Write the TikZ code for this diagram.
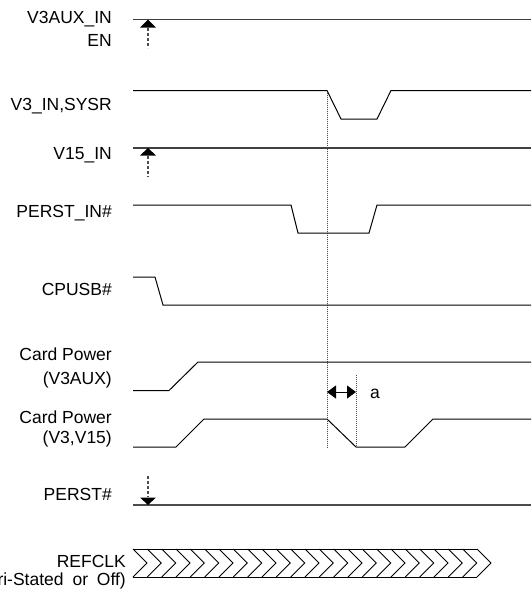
\documentclass[tikz,border=0pt]{standalone}
\usepackage{fontspec}
\setmainfont{Liberation Sans}
\usetikzlibrary{arrows.meta}
\begin{document}
\begin{tikzpicture}[x=1pt,y=-1pt,
  sig/.style={line width=1pt,black,line join=miter},
  flat/.style={line width=1.3pt,black!75},
  lbl/.style={anchor=base east,inner sep=0pt,font=\fontsize{17.5}{21}\selectfont},
  stem/.style={line width=1.1pt,black!70,dash pattern=on 2.5pt off 2.5pt},
  vdot/.style={line width=0.7pt,black!70,dash pattern=on 1pt off 1pt},
  tri/.style={fill=black,draw=none}]
\useasboundingbox (0,0) rectangle (531,595);
% labels
\node[lbl] (l1) at (112,23) {V3AUX\_IN};
\node[lbl] (l1b) at (112,46) {EN};
\node[lbl] (l2) at (112,110) {V3\_IN,SYSR};
\node[lbl] (l3) at (112,159) {V15\_IN};
\node[lbl] (l4) at (112,217) {PERST\_IN\#};
\node[lbl] (l5) at (112,295) {CPUSB\#};
\node[lbl] (l6) at (112,360) {Card Power};
\node[lbl] (l6b) at (112,384) {(V3AUX)};
\node[lbl] (l7) at (112,423) {Card Power};
\node[lbl] (l7b) at (112,443) {(V3,V15)};
\node[lbl] (l8) at (112,500) {PERST\#};
\node[lbl] (l9) at (126,567) {REFCLK};
\node[lbl] (l9b) at (126,585) {(Tri-Stated\hspace{4pt} or\hspace{4pt} Off)};
% dotted guides
\draw[vdot] (327,90.5) -- (327,447);
\draw[vdot] (356,375) -- (356,447);
% V3AUX_IN
\draw[flat] (133,19.5) -- (531,19.5);
\draw[stem] (148,28) -- (148,48);
\fill[tri] (140,27.5) -- (148,19.5) -- (156,27.5) -- cycle;
% V3_IN,SYSR
\draw[sig] (133,90.5) -- (327,90.5) -- (341,119) -- (377,119) -- (391,90.5) -- (531,90.5);
% V15_IN
\draw[flat] (133,148) -- (531,148);
\draw[stem] (148,156) -- (148,177);
\fill[tri] (140,155.5) -- (148,148) -- (156,155.5) -- cycle;
% PERST_IN#
\draw[sig] (133,205) -- (291,205) -- (298,233) -- (369,233) -- (377,205) -- (531,205);
% CPUSB#
\draw[sig] (133,277) -- (155,277) -- (163,305) -- (531,305);
% Card power V3AUX
\draw[sig] (133,390.5) -- (169,390.5) -- (198,362) -- (531,362);
% Card power V3,V15
\draw[sig] (133,447) -- (176,447) -- (204,419) -- (327,419) -- (356,447) -- (405,447) -- (433,419) -- (531,419);
% time a
\coordinate (aL) at (327,392);
\coordinate (aR) at (356,392);
\draw[line width=1pt,{Triangle[length=9pt,width=13pt]}-{Triangle[length=9pt,width=13pt]}] (aL) -- (aR);
\node[anchor=base west,inner sep=0pt,font=\fontsize{17.5}{21}\selectfont] (alab) at (370,398) {a};
% PERST#
\draw[line width=1.6pt,black!70] (133,505) -- (531,505);
\draw[stem] (148,476) -- (148,497);
\fill[tri] (140,497.5) -- (156,497.5) -- (148,505) -- cycle;
% REFCLK
\draw[line width=0.9pt] (133,549) -- (477,549);
\draw[line width=0.9pt] (133,577) -- (477,577);
\foreach \k in {0,...,24}{
  \draw[line width=0.9pt,line join=miter] ({133+\k*14.333},549) -- ({147+\k*14.333},563) -- ({133+\k*14.333},577);
}
\end{tikzpicture}
\end{document}
